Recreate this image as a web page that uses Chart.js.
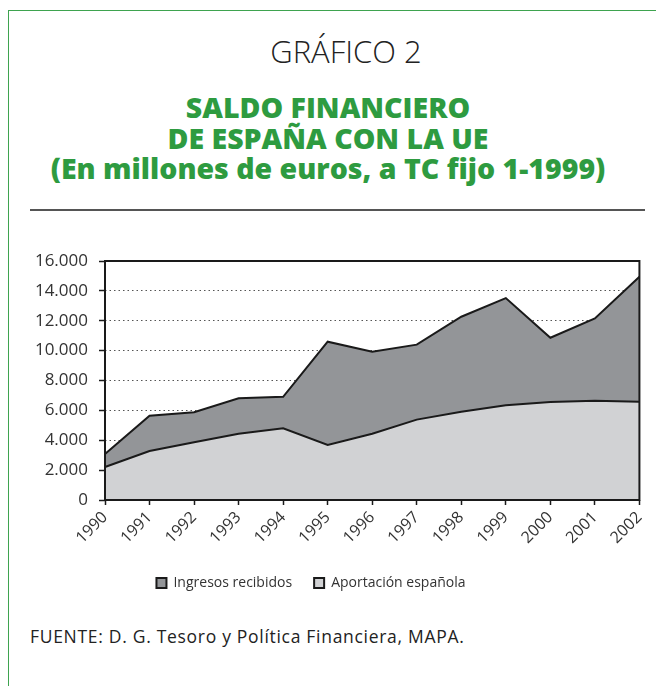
<!DOCTYPE html>
<html>
<head>
<meta charset="utf-8">
<script src="https://cdn.jsdelivr.net/npm/chart.js@4"></script>
<style>
  html, body { margin: 0; padding: 0; background: #fff; }
  body { width: 656px; height: 686px; position: relative; overflow: hidden; font-family: "Open Sans", sans-serif; }
  .marco { position: absolute; left: 8px; top: 10px; width: 700px; height: 700px; border-left: 1.5px solid #3ea34f; border-top: 1.5px solid #3ea34f; }
  .num { position: absolute; left: 18px; width: 656px; top: 30px; text-align: center; font-size: 31px; font-weight: 300; color: #222; }
  .titulo { position: absolute; left: 0; width: 656px; top: 92px; text-align: center; font-size: 28.5px; font-weight: 800; color: #2e9b40; line-height: 30.5px; }
  .regla { position: absolute; left: 30px; top: 209px; width: 615px; height: 2px; background: #555; }
  .fuente { position: absolute; left: 30px; top: 624px; font-size: 17.5px; letter-spacing: 0.7px; color: #222; }
  .lienzo { position: absolute; left: -34px; top: 230px; width: 690px; height: 380px; }
</style>
</head>
<body>
<div class="marco"></div>
<div class="num">GRÁFICO 2</div>
<div class="titulo">SALDO FINANCIERO<br>DE ESPAÑA CON LA UE<br>(En millones de euros, a TC fijo 1-1999)</div>
<div class="regla"></div>
<div class="lienzo">
  <canvas id="grafico-saldo" width="690" height="380"></canvas>
</div>
<div class="fuente">FUENTE: D. G. Tesoro y Política Financiera, MAPA.</div>

<script>
const anios = ['1990', '1991', '1992', '1993', '1994', '1995', '1996', '1997', '1998', '1999', '2000', '2001', '2002'];
const ingresosRecibidos = [3080, 5640, 5870, 6810, 6910, 10600, 9930, 10400, 12270, 13520, 10860, 12160, 14950];
const aportacionEspanola = [2210, 3280, 3860, 4440, 4800, 3680, 4440, 5380, 5910, 6340, 6560, 6650, 6580];
const etiquetasY = ['0', '2.000', '4.000', '6.000', '8.000', '10.000', '12.000', '14.000', '16.000'];

// marco negro alrededor del area del grafico
const marcoArea = {
    id: 'marcoArea',
    afterDatasetsDraw(chart) {
        const a = chart.chartArea;
        const c = chart.ctx;
        c.save();
        c.strokeStyle = '#1a1a1a';
        c.lineWidth = 2;
        c.strokeRect(a.left, a.top, a.right - a.left, a.bottom - a.top);
        c.restore();
    }
};

const fuenteEjes = { family: '"Open Sans", sans-serif', size: 17 };

new Chart(document.getElementById('grafico-saldo').getContext('2d'), {
    type: 'line',
    data: {
        labels: anios,
        datasets: [{
            label: 'Ingresos recibidos',
            data: ingresosRecibidos,
            backgroundColor: '#939598',
            borderColor: '#1a1a1a',
            borderWidth: 2,
            pointRadius: 0,
            fill: 'origin',
            order: 2
        }, {
            label: 'Aportación española',
            data: aportacionEspanola,
            backgroundColor: '#d1d2d4',
            borderColor: '#1a1a1a',
            borderWidth: 2,
            pointRadius: 0,
            fill: 'origin',
            order: 1
        }]
    },
    options: {
        responsive: false,
        animation: false,
        layout: { padding: { top: 31, right: 14, bottom: 10, left: 14 } },
        plugins: {
            legend: {
                position: 'bottom',
                labels: {
                    boxWidth: 10,
                    boxHeight: 10,
                    padding: 22,
                    color: '#333',
                    font: { family: '"Open Sans", sans-serif', size: 14 },
                    sort: (a, b) => a.datasetIndex - b.datasetIndex
                }
            },
            tooltip: { enabled: false }
        },
        scales: {
            x: {
                offset: false,
                grid: { drawOnChartArea: false, tickLength: 5, tickColor: '#1a1a1a', tickWidth: 1.5 },
                border: { display: false },
                ticks: { color: '#333', font: { family: '"Open Sans", sans-serif', size: 16 }, minRotation: 45, maxRotation: 45, padding: 3 },
                afterFit: s => { s.height = 54; }
            },
            y: {
                min: 0,
                max: 16000,
                grid: {
                    color: ctx => (ctx.tick && (ctx.tick.value === 0 || ctx.tick.value === 16000)) ? 'rgba(0,0,0,0)' : '#555',
                    tickBorderDash: [],
                    tickColor: '#1a1a1a',
                    tickWidth: 1.5,
                    tickLength: 6,
                    lineWidth: 1
                },
                border: { display: false, dash: [1.5, 3] },
                ticks: {
                    stepSize: 2000,
                    color: '#333',
                    font: fuenteEjes,
                    padding: 11,
                    callback: v => etiquetasY[v / 2000]
                },
                afterFit: s => { s.width = 125; }
            }
        }
    },
    plugins: [marcoArea]
});
</script>
</body>
</html>
